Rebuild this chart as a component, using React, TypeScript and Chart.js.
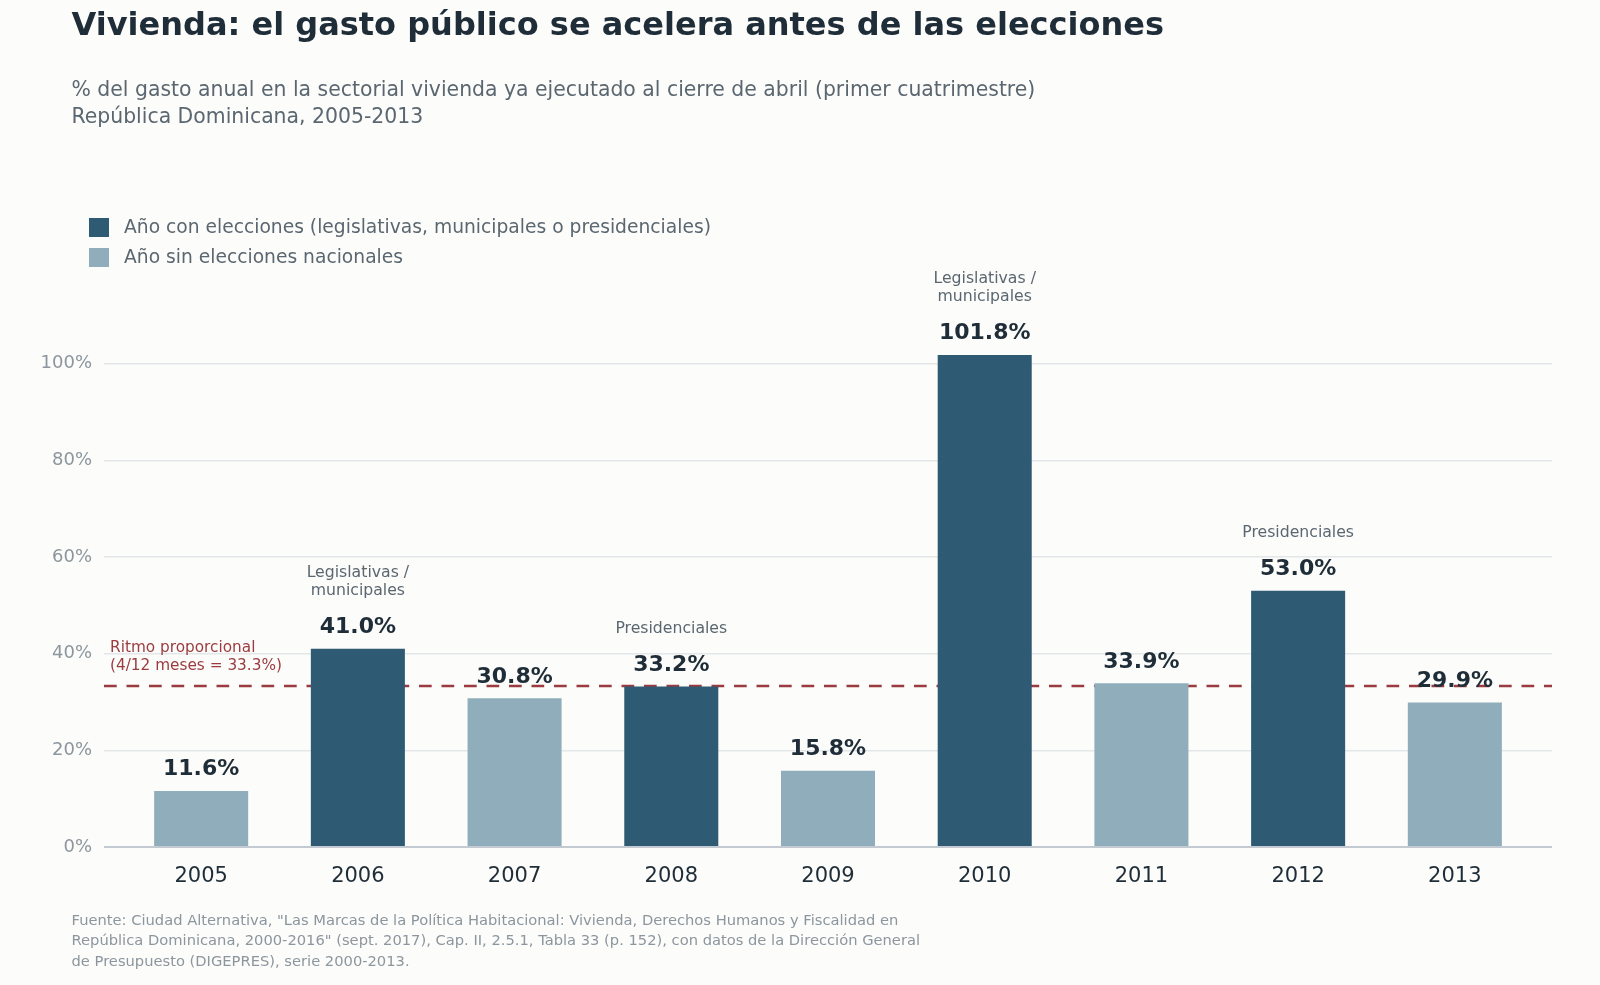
import React, { useEffect, useRef } from 'react'
import { Chart, registerables } from 'chart.js'

Chart.register(...registerables)

// datos: % del gasto anual de vivienda ejecutado al cierre de abril
const years = ['2005', '2006', '2007', '2008', '2009', '2010', '2011', '2012', '2013']
const gastoAbril = [11.6, 41.0, 30.8, 33.2, 15.8, 101.8, 33.9, 53.0, 29.9]
const conElecciones = [false, true, false, true, false, true, false, true, false]
const tipoEleccion = ['', 'Legislativas /\nmunicipales', '', 'Presidenciales', '', 'Legislativas /\nmunicipales', '', 'Presidenciales', '']
const yTicks = [0, 20, 40, 60, 80, 100]
const ritmoProporcional = 33.3

const FONT = "'DejaVu Sans', sans-serif"
const OSCURO = '#2e5a73'
const CLARO = '#8fadba'
const TEXTO = '#1f2d38'
const GRIS = '#5b6770'
const GRIS_CLARO = '#8c969e'
const ROJO = '#9b3b40'
const FONDO = '#fcfcfa'

const anotaciones = {
  id: 'anotaciones',
  beforeDatasetsDraw(chart: any) {
    const { ctx, chartArea, scales } = chart
    const y = scales.y.getPixelForValue(ritmoProporcional)
    ctx.save()
    ctx.strokeStyle = ROJO
    ctx.lineWidth = 2.6
    ctx.setLineDash([12.7, 9.8])
    ctx.beginPath()
    ctx.moveTo(chartArea.left, y)
    ctx.lineTo(chartArea.right, y)
    ctx.stroke()
    ctx.restore()
  },
  afterDatasetsDraw(chart: any) {
    const { ctx, chartArea, scales } = chart
    const meta = chart.getDatasetMeta(0)
    ctx.save()
    ctx.textAlign = 'center'
    ctx.textBaseline = 'alphabetic'
    meta.data.forEach((bar: any, i: number) => {
      ctx.fillStyle = TEXTO
      ctx.font = `bold 22px ${FONT}`
      ctx.fillText(gastoAbril[i].toFixed(1) + '%', bar.x, bar.y - 15.5)
      if (tipoEleccion[i]) {
        const lines = tipoEleccion[i].split('\n')
        ctx.fillStyle = GRIS
        ctx.font = `15.7px ${FONT}`
        lines.forEach((t: string, j: number) => {
          ctx.fillText(t, bar.x, bar.y - 54 - (lines.length - 1 - j) * 18)
        })
      }
    })
    // etiqueta del ritmo proporcional
    const y = scales.y.getPixelForValue(ritmoProporcional)
    ctx.textAlign = 'left'
    ctx.fillStyle = ROJO
    ctx.font = `15.3px ${FONT}`
    ctx.fillText('Ritmo proporcional', chartArea.left + 6, y - 34)
    ctx.fillText('(4/12 meses = 33.3%)', chartArea.left + 6, y - 16)
    ctx.restore()
  },
}

function GastoChart() {
  const canvasRef = useRef<HTMLCanvasElement>(null)

  useEffect(() => {
    if (!canvasRef.current) return
    const chart = new Chart(canvasRef.current, {
      type: 'bar',
      data: {
        datasets: [
          {
            data: gastoAbril.map((v, i) => ({ x: i, y: v })),
            backgroundColor: conElecciones.map((e) => (e ? OSCURO : CLARO)),
            borderWidth: 0,
            barPercentage: 0.6,
            categoryPercentage: 1,
          },
        ],
      },
      options: {
        animation: false,
        responsive: true,
        maintainAspectRatio: false,
        layout: { padding: { top: 267, right: 48, bottom: 0, left: 0 } },
        plugins: {
          legend: { display: false },
          tooltip: { enabled: false },
        },
        scales: {
          x: {
            type: 'linear',
            offset: false,
            min: -0.62,
            max: 8.62,
            afterBuildTicks: (scale: any) => {
              scale.ticks = years.map((_, i) => ({ value: i }))
            },
            afterFit: (scale: any) => {
              scale.height = 138
            },
            grid: { display: false, drawTicks: false },
            border: { display: false },
            ticks: {
              padding: 17,
              color: TEXTO,
              font: { family: FONT, size: 21 },
              callback: (v: any) => years[v] ?? '',
            },
          },
          y: {
            min: 0,
            max: 120,
            afterBuildTicks: (scale: any) => {
              scale.ticks = yTicks.map((v) => ({ value: v }))
            },
            afterFit: (scale: any) => {
              scale.width = 104
            },
            grid: {
              drawTicks: false,
              color: (c: any) => (c.tick && c.tick.value === 0 ? '#c3cad1' : '#e3e7ea'),
              lineWidth: (c: any) => (c.tick && c.tick.value === 0 ? 2 : 1.5),
            },
            border: { display: false },
            ticks: {
              padding: 12,
              color: GRIS_CLARO,
              font: { family: FONT, size: 18 },
              callback: (v: any) => `${v}%`,
            },
          },
        },
      } as any,
      plugins: [anotaciones],
    })
    return () => chart.destroy()
  }, [])

  return (
    <div style={{ position: 'absolute', left: 0, top: 0, width: 1600, height: 985 }}>
      <canvas ref={canvasRef} />
    </div>
  )
}

export default function App() {
  const legendRow = (color: string, label: string, top: number) => (
    <div style={{ position: 'absolute', left: 89, top, height: 30, lineHeight: '30px', fontSize: 18.7, color: GRIS, whiteSpace: 'nowrap' }}>
      <span style={{ position: 'absolute', left: 0, top: 6.4, width: 20, height: 19, background: color }} />
      <span style={{ position: 'absolute', left: 35 }}>{label}</span>
    </div>
  )

  return (
    <div style={{ position: 'fixed', left: 0, top: 0, width: 1600, height: 985, background: FONDO, fontFamily: FONT, overflow: 'hidden' }}>
      <GastoChart />
      <div style={{ position: 'absolute', left: 71.5, top: 4, fontSize: 32, lineHeight: '40px', fontWeight: 'bold', color: TEXTO, whiteSpace: 'nowrap' }}>
        Vivienda: el gasto público se acelera antes de las elecciones
      </div>
      <div style={{ position: 'absolute', left: 71.5, top: 75.6, fontSize: 20.4, lineHeight: '27px', color: GRIS, whiteSpace: 'nowrap' }}>
        % del gasto anual en la sectorial vivienda ya ejecutado al cierre de abril (primer cuatrimestre)
        <br />
        República Dominicana, 2005-2013
      </div>
      {legendRow(OSCURO, 'Año con elecciones (legislativas, municipales o presidenciales)', 211.6)}
      {legendRow(CLARO, 'Año sin elecciones nacionales', 241.6)}
      <div style={{ position: 'absolute', left: 71.5, top: 909.7, fontSize: 14.7, lineHeight: '20.5px', color: GRIS_CLARO, whiteSpace: 'nowrap' }}>
        Fuente: Ciudad Alternativa, "Las Marcas de la Política Habitacional: Vivienda, Derechos Humanos y Fiscalidad en
        <br />
        República Dominicana, 2000-2016" (sept. 2017), Cap. II, 2.5.1, Tabla 33 (p. 152), con datos de la Dirección General
        <br />
        de Presupuesto (DIGEPRES), serie 2000-2013.
      </div>
    </div>
  )
}
